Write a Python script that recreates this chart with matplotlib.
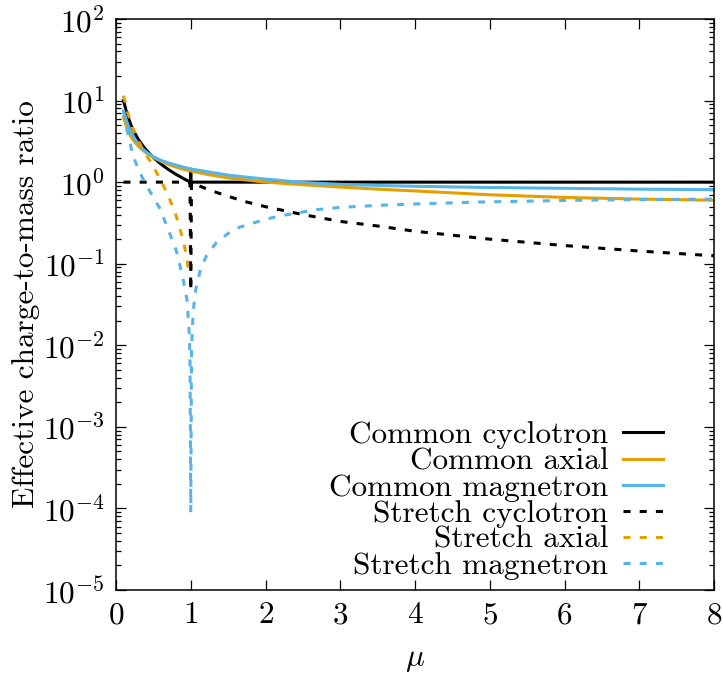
import matplotlib
matplotlib.use('Agg')
import matplotlib.pyplot as plt
from matplotlib.ticker import LogLocator, NullFormatter

plt.rcParams['font.family'] = 'serif'
plt.rcParams['font.serif'] = ['cmr10']
plt.rcParams['mathtext.fontset'] = 'cm'
plt.rcParams['axes.formatter.use_mathtext'] = True
plt.rcParams['axes.unicode_minus'] = True

# values
# common cyclotron (spike at mu = 1)
x_cc = [0.1, 0.15, 0.2, 0.25, 0.3, 0.35, 0.4, 0.5, 0.6, 0.7, 0.8, 0.9, 0.95, 1.0, 1.0, 1.0, 1.5, 2, 3, 4, 5, 6, 7, 8]
y_cc = [10, 6.7, 5.0, 4.0, 3.33, 2.86, 2.5, 2.0, 1.67, 1.43, 1.25, 1.11, 1.05, 1.0, 1.44, 1.0, 1, 1, 1, 1, 1, 1, 1, 1]

# common axial
x_ca = [0.1, 0.15, 0.2, 0.25, 0.3, 0.35, 0.4, 0.5, 0.6, 0.7, 0.8, 0.9, 1.0, 1.25, 1.5, 1.75, 2, 2.5, 3, 3.5, 4, 5, 6, 7, 8]
y_ca = [6.2, 4.5, 3.6, 3.1, 2.75, 2.5, 2.3, 2.0, 1.8, 1.65, 1.53, 1.44, 1.37, 1.23, 1.13, 1.06, 1.0, 0.93, 0.87, 0.82, 0.78, 0.70, 0.65, 0.62, 0.60]

# common magnetron
x_cm = [0.1, 0.15, 0.2, 0.25, 0.3, 0.35, 0.4, 0.5, 0.6, 0.7, 0.8, 0.9, 1.0, 1.25, 1.5, 1.75, 2, 2.5, 3, 3.5, 4, 5, 6, 7, 8]
y_cm = [7.5, 5.3, 4.1, 3.4, 2.95, 2.6, 2.35, 2.05, 1.85, 1.72, 1.62, 1.53, 1.45, 1.33, 1.22, 1.15, 1.09, 0.99, 0.94, 0.91, 0.89, 0.86, 0.84, 0.82, 0.81]

# stretch cyclotron (drop at mu = 1)
x_sc = [0.1, 0.5, 0.99, 1.0, 1.01, 1.1, 1.25, 1.5, 1.75, 2, 2.5, 3, 3.5, 4, 5, 6, 7, 8]
y_sc = [1, 1, 1, 0.047, 0.99, 0.91, 0.8, 0.67, 0.57, 0.5, 0.4, 0.33, 0.29, 0.25, 0.2, 0.167, 0.143, 0.125]

# stretch axial (only below mu = 1)
x_sa = [0.1, 0.15, 0.2, 0.25, 0.3, 0.35, 0.4, 0.45, 0.5, 0.6, 0.7, 0.75, 0.8, 0.85, 0.9, 0.95, 0.97]
y_sa = [11.5, 7.5, 5.3, 4.0, 3.2, 2.6, 2.15, 1.86, 1.55, 1.05, 0.68, 0.52, 0.40, 0.28, 0.19, 0.12, 0.075]

# stretch magnetron (dip at mu = 1)
x_sm = [0.1, 0.15, 0.2, 0.23, 0.3, 0.36, 0.45, 0.5, 0.59, 0.7, 0.8, 0.83, 0.9, 0.95, 0.98, 0.99, 1.0,
        1.01, 1.02, 1.04, 1.07, 1.13, 1.21, 1.34, 1.5, 1.65, 2, 2.19, 2.68, 3, 3.52, 4, 4.85, 6.2, 7, 8]
y_sm = [7.2, 4.3, 2.7, 2.05, 1.45, 1.1, 0.78, 0.65, 0.47, 0.26, 0.15, 0.12, 0.063, 0.036, 0.014, 0.007, 0.00009,
        0.0075, 0.016, 0.03, 0.05, 0.085, 0.125, 0.18, 0.235, 0.28, 0.35, 0.385, 0.46, 0.49, 0.52, 0.54, 0.57, 0.60, 0.61, 0.62]

labels = ['Common cyclotron', 'Common axial', 'Common magnetron',
          'Stretch cyclotron', 'Stretch axial', 'Stretch magnetron']

BLACK = '#000000'
ORANGE = '#E69F00'
BLUE = '#56B4E9'
FS = 22.5

fig = plt.figure(figsize=(7.23, 6.75), dpi=100)
ax = fig.add_axes([116/723, 1 - 590/675, 598/723, 571/675])

lw = 2.2
dash = (2.3, 3.0)
ax.plot(x_cc, y_cc, color=BLACK, lw=lw, label=labels[0])
ax.plot(x_ca, y_ca, color=ORANGE, lw=lw, label=labels[1])
ax.plot(x_cm, y_cm, color=BLUE, lw=lw, label=labels[2])
ax.plot(x_sc, y_sc, color=BLACK, lw=lw, dashes=dash, label=labels[3])
ax.plot(x_sa, y_sa, color=ORANGE, lw=lw, dashes=dash, label=labels[4])
ax.plot(x_sm, y_sm, color=BLUE, lw=lw, dashes=dash, label=labels[5])

ax.set_yscale('log')
ax.set_xlim(0, 8)
ax.set_ylim(1e-5, 1e2)
ax.set_xticks(range(9))
ax.yaxis.set_major_locator(LogLocator(base=10, numticks=20))
ax.yaxis.set_minor_locator(LogLocator(base=10, subs=range(2, 10), numticks=20))
ax.yaxis.set_minor_formatter(NullFormatter())

ax.tick_params(which='both', direction='in', top=True, right=True, labelsize=FS)
ax.tick_params(which='major', length=7, width=0.9)
ax.tick_params(which='minor', length=3.6, width=0.9)
ax.tick_params(axis='x', pad=8)
ax.tick_params(axis='y', pad=8)
for s in ax.spines.values():
    s.set_linewidth(1.1)

ax.set_xlabel(r'$\mu$', fontsize=FS, labelpad=12)
ax.set_ylabel('Effective charge-to-mass ratio', fontsize=FS, labelpad=2)

leg = ax.legend(loc='lower right', bbox_to_anchor=(0.915, 0.018), frameon=False,
                markerfirst=False, fontsize=FS, handlelength=1.3, handletextpad=0.45,
                labelspacing=-0.06, borderaxespad=0, borderpad=0)
leg._legend_box._children[-1]._children[0].align = 'right'

fig.savefig('out.png', dpi=100)
